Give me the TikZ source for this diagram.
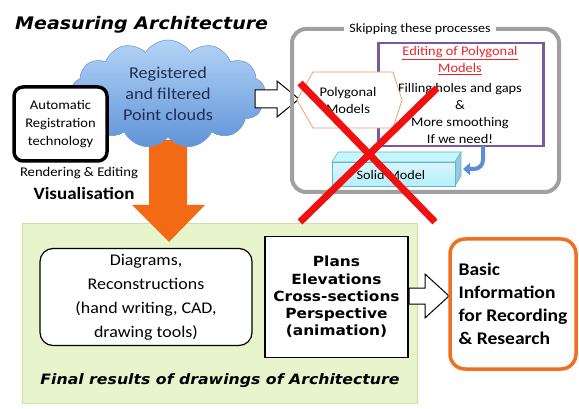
\documentclass[tikz,border=0pt]{standalone}
\usepackage{fontspec}
\setmainfont{Carlito}[FakeStretch=1.1]
\newfontfamily\ver{DejaVu Sans}[FakeStretch=1.1]
\usetikzlibrary{shapes.symbols,arrows.meta}
\definecolor{orng}{HTML}{F26B14}
\definecolor{orbox}{HTML}{F07020}
\definecolor{grn}{HTML}{E8F5CC}
\definecolor{grnb}{HTML}{C8E2A4}
\definecolor{gry}{HTML}{A0A0A0}
\definecolor{purp}{HTML}{7A5A9F}
\definecolor{redx}{HTML}{F01010}
\definecolor{redt}{HTML}{E8262A}
\definecolor{cltop}{HTML}{B4D4F6}
\definecolor{clbot}{HTML}{5F93D8}
\definecolor{clb}{HTML}{6E9AD0}
\definecolor{navy}{HTML}{1F2F4F}
\definecolor{blu}{HTML}{5B8ED6}
\definecolor{cyf}{HTML}{C4EEFA}
\definecolor{cyb}{HTML}{66B4CC}
\tikzset{
  blockarrow/.style={draw=black,line width=1pt,fill=white},
  txt/.style={inner sep=0pt,align=center},
}
\begin{document}
\begin{tikzpicture}[x=1pt,y=-1pt]
\useasboundingbox (0,0) rectangle (579,409);
% green region
\node[draw=grnb,fill=grn,minimum width=395,minimum height=180,anchor=north west,inner sep=0pt] (green) at (22,223) {};
% orange arrow
\fill[orng] (149,140) -- (187,140) -- (187,205) -- (205,205) -- (169,242) -- (132,205) -- (149,205) -- cycle;
% cloud
\node[cloud,cloud puffs=13,cloud puff arc=115,aspect=1.7,minimum width=194,minimum height=108,
  top color=cltop,bottom color=clbot,draw=clb,line width=0.6pt,txt,text=navy,
  font=\fontsize{16.5}{21}\selectfont] (cloud) at (168,94) {Registered\\and filtered\\Point clouds};
% automatic box
\node[draw=black,line width=3.5pt,rounded corners=9,fill=white,minimum width=93,minimum height=74,
  align=center,font=\fontsize{13.2}{18}\selectfont] (auto) at (60.5,124) {Automatic\\Registration\\technology};
\node[txt,font=\fontsize{13.3}{15}\selectfont] (rend) at (79,173) {Rendering \& Editing};
\node[txt,font=\fontsize{17.3}{18}\selectfont\bfseries] (vis) at (84,193) {Visualisation};
% title
\node[txt,anchor=west,font=\ver\fontsize{17.3}{20}\selectfont\bfseries\itshape] (title) at (15,25) {Measuring Architecture};
% block arrow cloud -> polygonal
\draw[blockarrow] (255,90) -- (277,90) -- (277,81) -- (299,99) -- (277,117) -- (277,108) -- (255,108) -- cycle;
% gray frame
\draw[gry,line width=4pt,rounded corners=14] (292,29) rectangle (559,192);
\node[fill=white,inner xsep=5pt,inner ysep=1pt,font=\fontsize{12.7}{15}\selectfont] (skip) at (420,29) {Skipping these processes};
% purple box
\node[draw=purp,line width=2.5pt,fill=white,minimum width=165,minimum height=103,anchor=north west,inner sep=0pt] (edit) at (377,42) {};
\node[txt,text=redt,font=\fontsize{13.1}{17}\selectfont] (edt) at (460,61) {\underline{Editing of Polygonal}\\\underline{Models}};
\node[txt,font=\fontsize{13.1}{17}\selectfont] (fill) at (460,113) {Filling holes and gaps\\\&\\More smoothing\\If we need!};
% hexagon
\fill[white,draw=orbox!70!white,line width=0.8pt] (297,100) -- (313,72) -- (393,72) -- (402,100) -- (393,128) -- (313,128) -- cycle;
\node[txt,font=\fontsize{13.2}{17}\selectfont] (poly) at (348,100) {Polygonal\\Models};
% blue curved arrow
\draw[blu,line width=4pt,rounded corners=9,-{Triangle[width=12pt,length=7pt]}] (483,146) -- (483,169) -- (463,169);
% solid model 3D box
\fill[cyf!80!cyan!60!white,draw=cyb,line width=0.6pt] (332,162) -- (338,152) -- (461,152) -- (455,162) -- cycle;
\fill[cyb!70!white,draw=cyb,line width=0.6pt] (455,162) -- (461,152) -- (461,176) -- (455,186) -- cycle;
\node[top color=cyf!60!white,bottom color=cyf!90!cyan,draw=cyb,line width=0.6pt,minimum width=123,minimum height=24,anchor=north west,inner sep=0pt] (solidf) at (332,162) {};
\node[txt,font=\fontsize{12.9}{15}\selectfont] (solid) at (391,175) {Solid Model};
% diagrams box
\node[draw=black,line width=1.2pt,fill=white,rounded corners=13,minimum width=212,minimum height=97,
  align=center,font=\fontsize{16.3}{24}\selectfont] (diag) at (146,297) {Diagrams,\\Reconstructions\\(hand writing, CAD,\\drawing tools)};
% plans box
\node[draw=black,line width=1.5pt,fill=white,minimum width=143,minimum height=121,
  align=center,font=\ver\fontsize{14}{17.3}\selectfont\bfseries] (plans) at (336.5,297) {Plans\\Elevations\\Cross-sections\\Perspective\\(animation)};
% block arrow plans -> basic
\draw[blockarrow] (409,288) -- (425,288) -- (425,274) -- (449,296) -- (425,318) -- (425,304) -- (409,304) -- cycle;
% basic box
\node[draw=orbox,line width=3.5pt,fill=white,rounded corners=15,minimum width=126,minimum height=130,
  align=left,font=\fontsize{17.8}{23}\selectfont\bfseries] (basic) at (513,304) {Basic\\Information\\for Recording\\\& Research};
% final results
\node[txt,font=\ver\fontsize{14.3}{16}\selectfont\bfseries\itshape] (final) at (220,381) {Final results of drawings of Architecture};
% red X
\draw[redx,line width=7pt] (300,83) -- (435,222);
\draw[redx,line width=7pt] (437,88) -- (300,222);
\end{tikzpicture}
\end{document}
